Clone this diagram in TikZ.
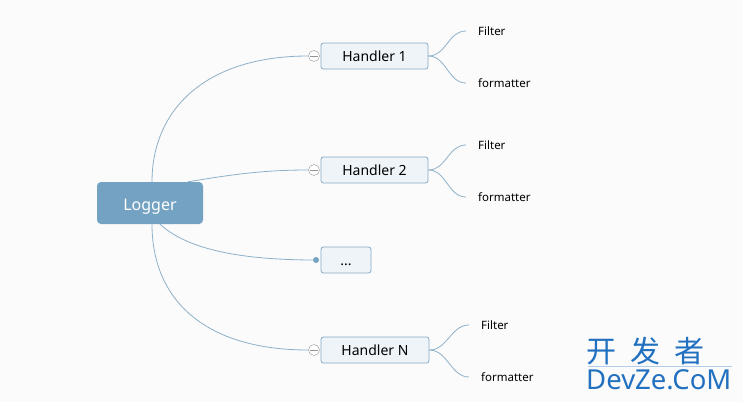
\documentclass[tikz,border=0pt]{standalone}
\usepackage{fontspec}
\setmainfont{Noto Sans}
\newfontfamily\cjk{Noto Sans CJK SC}
\usetikzlibrary{calc, shapes, backgrounds}
\definecolor{rootblue}{HTML}{74A2C2}
\definecolor{linkblue}{HTML}{8DB0C9}
\definecolor{boxfill}{HTML}{EFF4F8}
\definecolor{boxline}{HTML}{86A9C4}
\definecolor{markblue}{HTML}{2271C0}
\definecolor{paper}{HTML}{FBFBFB}

\begin{document}
\begin{tikzpicture}
  [
    x = 1pt, y = -1pt,
    every node/.style = {inner sep = 0pt},
    root/.style = {fill = rootblue, rounded corners = 4pt, minimum width = 106pt,
      minimum height = 42pt, text = white, font = \fontsize{16}{19}\selectfont,
      text height = 15pt, text depth = 1pt},
    handler/.style = {draw = boxline, line width = 0.8pt, fill = boxfill,
      rounded corners = 2.5pt, minimum width = 107pt, minimum height = 26pt,
      font = \fontsize{14}{17}\selectfont, text height = 12pt, text depth = 1.5pt},
    leaf/.style = {anchor = west, font = \fontsize{11.5}{14}\selectfont},
    link/.style = {draw = linkblue, line width = 0.8pt},
    fold/.style = {draw = gray!85, fill = white, circle, minimum size = 11pt}
  ]
  \fill [paper] (0,0) rectangle (743,402);

  \node [root] (Logger) at (150,203) {Logger};
  \node [handler] (H1) at (374.5,56) {Handler 1};
  \node [handler] (H2) at (374.5,170) {Handler 2};
  \node [handler, minimum width = 50pt] (Dots) at (346,260) {...};
  \node [handler, minimum width = 108pt] (HN) at (375,350) {Handler N};

  % collapse marks
  \node [fold] (C1) at (314,56) {};
  \node [fold] (C2) at (314,170) {};
  \node [fold] (CN) at (314,350) {};
  \foreach \c in {C1, C2, CN}
    \draw [gray!85, line width = 0.6pt] ($(\c.west)+(2,0)$) -- ($(\c.east)-(2,0)$);
  \fill [rootblue] (316,260) circle (3pt) coordinate (D);

  % logger links
  \draw [link] ($(Logger.north)+(2,0)$) .. controls (152,110) and (205,56) .. (C1.west);
  \draw [link] ($(Logger.north)+(38,0)$) .. controls (235,174) and (265,170) .. (C2.west);
  \draw [link] ($(Logger.south)+(10,0)$) .. controls (190,252) and (250,260) .. (D);
  \draw [link] ($(Logger.south)+(2,0)$) .. controls (152,300) and (205,350) .. (CN.west);

  % leaves
  \foreach \h/\y/\x in {1/56/478, 2/170/478, N/350/481} {
    \node [leaf] (F\h) at (\x,\y-25) {Filter};
    \node [leaf] (M\h) at (\x,\y+27) {formatter};
    \draw [link] (H\h.east) .. controls ++(18,0) and ($(F\h.west)+(-30,0)$)
      .. ($(F\h.west)+(-12,0)$);
    \draw [link] (H\h.east) .. controls ++(18,0) and ($(M\h.west)+(-30,0)$)
      .. ($(M\h.west)+(-12,0)$);
  }

  % watermark
  \node [anchor = west, text = markblue, font = \cjk\fontsize{30}{33}\selectfont]
    (Mark) at (586,351) {开\hspace{14pt}发\hspace{14pt}者};
  \node [anchor = west, text = markblue, font = \fontsize{27.5}{30}\selectfont]
    (Site) at (586,380) {DevZe.CoM};
  \draw [markblue!35, line width = 0.6pt] (588,366.5) -- (732,366.5);
\end{tikzpicture}
\end{document}
